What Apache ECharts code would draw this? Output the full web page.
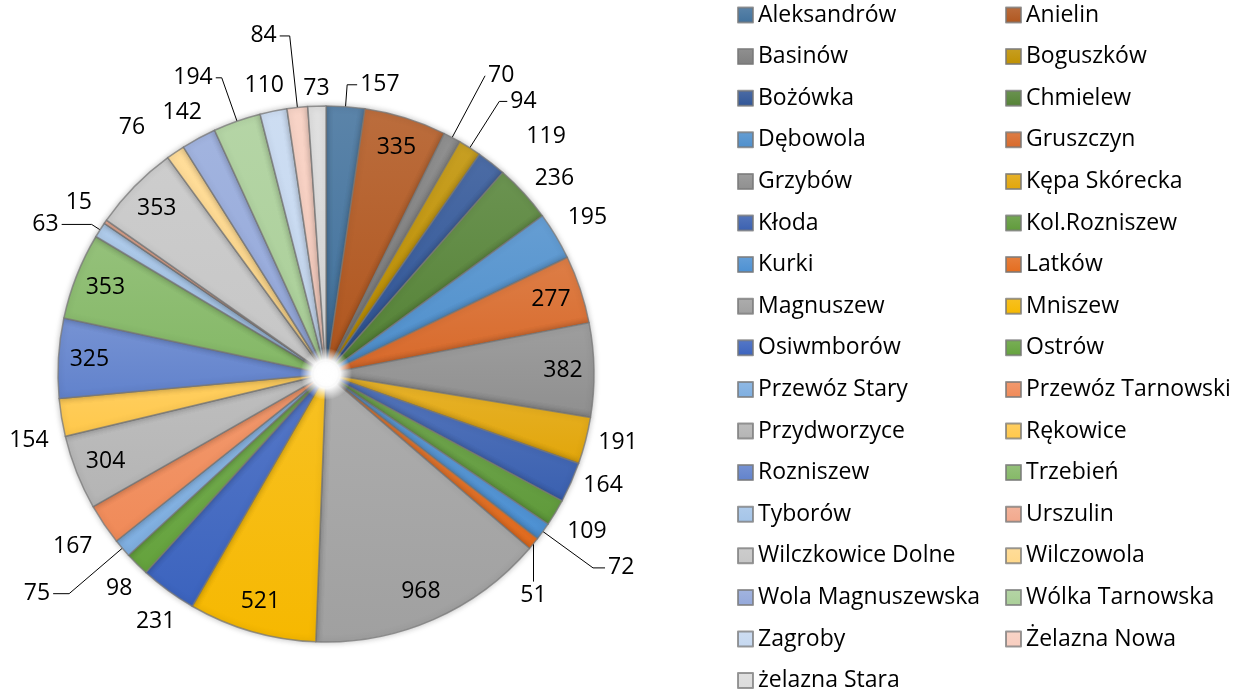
<!DOCTYPE html>
<html><head><meta charset="utf-8">
<script src="https://cdn.jsdelivr.net/npm/echarts@6/dist/echarts.min.js"></script>
<style>html,body{margin:0;padding:0;background:#fff}#c{width:1245px;height:693px}</style>
</head><body><div id="c"></div>
<script>
const categories = ["Aleksandrów","Anielin","Basinów","Boguszków","Bożówka","Chmielew","Dębowola","Gruszczyn","Grzybów","Kępa Skórecka","Kłoda","Kol.Rozniszew","Kurki","Latków","Magnuszew","Mniszew","Osiwmborów","Ostrów","Przewóz Stary","Przewóz Tarnowski","Przydworzyce","Rękowice","Rozniszew","Trzebień","Tyborów","Urszulin","Wilczkowice Dolne","Wilczowola","Wola Magnuszewska","Wólka Tarnowska","Zagroby","Żelazna Nowa","żelazna Stara"];
const values = [157,335,70,94,119,236,195,277,382,191,164,109,72,51,968,521,231,98,75,167,304,154,325,353,63,15,353,76,142,194,110,84,73];

const palette = ["#41719C","#B0561E","#7F7F7F","#BF9000","#2F5597","#548235","#4E8FCC","#D8692A","#8F8F8F","#E2A60A","#3A60B0","#5F9A3A","#4C90D2","#E46C1E","#A0A0A0","#F6B800","#3B63BE","#64A23C","#7EAEE0","#F08A58","#B4B4B4","#FFC84A","#6182CC","#84B866","#A4C4E8","#F2A88C","#C6C6C6","#FFD88A","#94A8DA","#AACF98","#C5D8F0","#F8CDBF","#DCDCDC"];
// leader lines [length, length2] for labels drawn with a visible line
const leader = {"Aleksandrów":[22,10],"Basinów":[70,0],"Boguszków":[55,8],"Kurki":[62,12],"Latków":[36,0],"Przewóz Stary":[70,16],"Tyborów":[10,30],"Wólka Tarnowska":[46,6],"Żelazna Nowa":[72,10]};
// hidden-line label distances
const plain = {"Urszulin":[20,2],"Wilczowola":[8,4]};
// small label nudges [dx, dy]
const nudge = {"Bożówka":[25,-20],"Chmielew":[0,-9],"Dębowola":[0,-15],"Kol.Rozniszew":[0,15],"Osiwmborów":[17,24],"Ostrów":[6,19],"Przewóz Tarnowski":[0,18],"Rękowice":[0,22],"Urszulin":[8,-8],"Wilczowola":[-19,-18],"Wola Magnuszewska":[12,-19],"Zagroby":[17,-18],"żelazna Stara":[18,-10]};
// labels hung straight below their slice on a vertical line
const dropDown = {"Latków":38};

const FONT = "'Open Sans', sans-serif";
const chart = echarts.init(document.getElementById('c'), null, {renderer:'canvas'});

function grad(c){
  return new echarts.graphic.LinearGradient(0,0,0,1,[{offset:0,color:echarts.color.lift(c,0.14)},{offset:1,color:c}]);
}
const mainData = categories.map((n,i)=>({name:n,value:values[i],itemStyle:{color:grad(palette[i])}}));
const labelData = categories.map((n,i)=>{
  const inside = values[i] > 250;
  const ld = leader[n];
  const pl = plain[n] || [8,2];
  return {
    name:n, value:values[i],
    label:{position: inside ? 'inside' : 'outside'},
    labelLine: ld ? {show:true,length:ld[0],length2:ld[1]} : {show:false,length:pl[0],length2:pl[1]}
  };
});

const center = [326,374];
const legendText = {fontFamily:FONT,fontSize:23,color:'#000',lineHeight:24};
chart.setOption({
  animation:false,
  color: palette,
  legend:[
    {data:categories.filter((_,i)=>i%2===0), orient:'vertical', left:737, top:3, padding:0,
     itemWidth:15,itemHeight:15,itemGap:17.6,icon:'rect',selectedMode:false,textStyle:legendText},
    {data:categories.filter((_,i)=>i%2===1), orient:'vertical', left:1005, top:3, padding:0,
     itemWidth:15,itemHeight:15,itemGap:17.6,icon:'rect',selectedMode:false,textStyle:legendText}
  ],
  series:[
    {type:'pie', name:'main', center:center, radius:[13,268], startAngle:90, clockwise:true,
     label:{show:false}, labelLine:{show:false}, silent:true,
     itemStyle:{borderColor:'rgba(120,120,120,0.75)',borderWidth:1.5,shadowBlur:6,shadowColor:'rgba(0,0,0,0.25)'},
     data:mainData},
    {type:'pie', name:'labels', center:center, radius:[200,268], startAngle:90, clockwise:true,
     silent:true, avoidLabelOverlap:false,
     itemStyle:{color:'rgba(0,0,0,0)'},
     label:{show:true,formatter:'{c}',fontFamily:FONT,fontSize:23,color:'#000',distanceToLabelLine:3},
     labelLine:{lineStyle:{color:'#000',width:1}},
     labelLayout:function(p){
       const name = categories[p.dataIndex];
       const drop = dropDown[name];
       if (drop && p.labelLinePoints) {
         const a = p.labelLinePoints[0];
         const b = [a[0], a[1] + drop];
         return {x:a[0], y:b[1] + 2, align:'center', verticalAlign:'top', hideOverlap:false,
                 labelLinePoints:[a, b, b]};
       }
       const n = nudge[name];
       return n ? {dx:n[0],dy:n[1],hideOverlap:false} : {hideOverlap:false};
     },
     data:labelData},
    {type:'pie', name:'glow', center:center, radius:[0,26], silent:true, label:{show:false},
     itemStyle:{color:new echarts.graphic.RadialGradient(0.5,0.5,0.5,[{offset:0,color:'#fff'},{offset:0.55,color:'rgba(255,255,255,0.95)'},{offset:1,color:'rgba(255,255,255,0)'}])},
     data:[{name:'',value:1}]}
  ]
});
</script></body></html>
